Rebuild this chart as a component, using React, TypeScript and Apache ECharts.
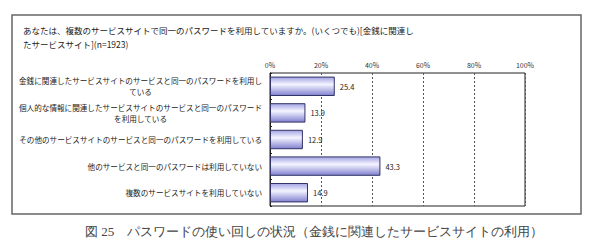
import React, { useEffect, useRef } from "react";
import * as echarts from "echarts";

const categories = [
  "金銭に関連したサービスサイトのサービスと同一のパスワードを利用し\nている",
  "個人的な情報に関連したサービスサイトのサービスと同一のパスワード\nを利用している",
  "その他のサービスサイトのサービスと同一のパスワードを利用している",
  "他のサービスと同一のパスワードは利用していない",
  "複数のサービスサイトを利用していない",
];
const values = [25.4, 13.9, 12.9, 43.3, 14.9];
const titleLines = [
  "あなたは、複数のサービスサイトで同一のパスワードを利用していますか。(いくつでも)[金銭に関連し",
  "たサービスサイト](n=1923)",
];
const caption = "図 25　パスワードの使い回しの状況（金銭に関連したサービスサイトの利用）";

const FONT = "'Noto Sans CJK JP', 'Noto Sans', sans-serif";

export default function App() {
  const ref = useRef<HTMLDivElement>(null);
  useEffect(() => {
    if (!ref.current) return;
    const chart = echarts.init(ref.current, null, { renderer: "svg" });
    chart.setOption({
      animation: false,
      backgroundColor: "#ffffff",
      textStyle: { fontFamily: FONT },
      grid: {
        left: 270,
        right: 65,
        top: 73,
        bottom: 41,
        show: true,
        borderColor: "#222",
        borderWidth: 1,
        backgroundColor: "transparent",
      },
      xAxis: {
        type: "value",
        position: "top",
        min: 0,
        max: 100,
        interval: 20,
        axisLine: { show: false },
        axisTick: { show: false },
        axisLabel: {
          formatter: "{value}%",
          fontSize: 7,
          color: "#333",
          margin: 5,
          fontFamily: FONT,
        },
        splitLine: { show: true, lineStyle: { color: "#555", type: [2, 2], width: 1 } },
      },
      yAxis: {
        type: "category",
        inverse: true,
        data: categories,
        axisLine: { show: true, lineStyle: { color: "#222" } },
        axisTick: { show: true, inside: true, length: 2, lineStyle: { color: "#222" } },
        axisLabel: {
          fontSize: 7.6,
          color: "#222",
          margin: 8,
          lineHeight: 11,
          fontFamily: FONT,
          formatter: (v: string) =>
            v.includes("\n")
              ? v
                  .split("\n")
                  .map((s) => `{c|${s}}`)
                  .join("\n")
              : v,
          rich: {
            c: { align: "center", fontSize: 7.6, color: "#222", lineHeight: 11, fontFamily: FONT },
          },
        },
      },
      series: [
        {
          type: "bar",
          data: values,
          barWidth: "73%",
          itemStyle: {
            color: new echarts.graphic.LinearGradient(0, 0, 0, 1, [
              { offset: 0, color: "#a3a3e4" },
              { offset: 0.4, color: "#f4f4ff" },
              { offset: 1, color: "#8080d0" },
            ]),
            borderColor: "#333366",
            borderWidth: 1,
          },
          label: {
            show: true,
            position: "right",
            distance: 5,
            fontSize: 7.5,
            color: "#222",
            fontFamily: FONT,
          },
        },
      ],
      graphic: [
        {
          type: "rect",
          shape: { x: 12, y: 15, width: 569, height: 199 },
          style: { fill: "none", stroke: "#666", lineWidth: 1.5 },
          silent: true,
        },
        {
          type: "text",
          x: 23,
          y: 30,
          style: {
            text: titleLines[0],
            fontSize: 8.5,
            fill: "#222",
            fontFamily: FONT,
            textVerticalAlign: "middle",
          },
        },
        {
          type: "text",
          x: 23,
          y: 44,
          style: {
            text: titleLines[1],
            fontSize: 8.5,
            fill: "#222",
            fontFamily: FONT,
            textVerticalAlign: "middle",
          },
        },
        {
          type: "text",
          x: 314,
          y: 231,
          style: {
            text: caption,
            fontSize: 13,
            fill: "#444",
            fontFamily: "serif",
            textAlign: "center",
            textVerticalAlign: "middle",
          },
        },
      ],
    });
    return () => chart.dispose();
  }, []);
  return (
    <div
      ref={ref}
      style={{ position: "fixed", left: 0, top: 0, width: 590, height: 247 }}
    />
  );
}
